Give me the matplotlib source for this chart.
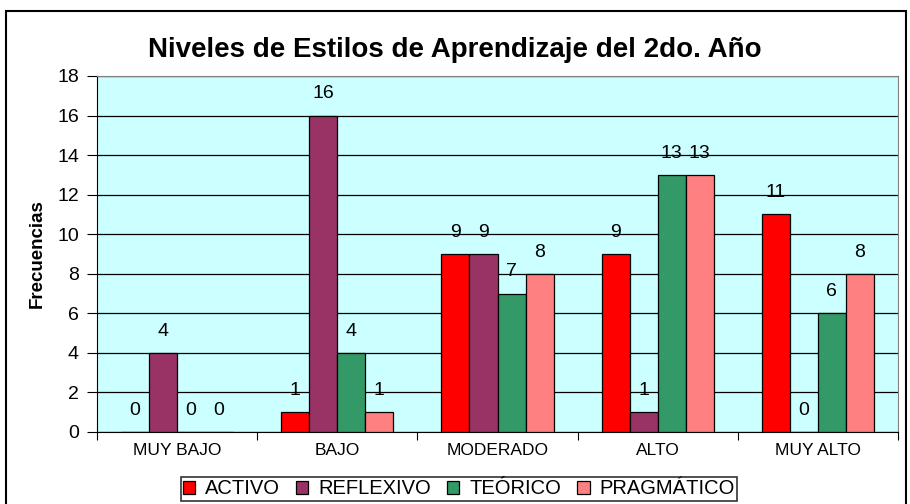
import matplotlib.pyplot as plt
import numpy as np
from matplotlib.patches import Rectangle

plt.rcParams['font.family'] = ['Liberation Sans', 'DejaVu Sans']

categorias = ['MUY BAJO', 'BAJO', 'MODERADO', 'ALTO', 'MUY ALTO']
series = ['ACTIVO', 'REFLEXIVO', 'TEÓRICO', 'PRAGMÁTICO']
activo = [0, 1, 9, 9, 11]
reflexivo = [4, 16, 9, 1, 0]
teorico = [0, 4, 7, 13, 6]
pragmatico = [0, 1, 8, 13, 8]
colors = ['#FF0000', '#993366', '#339966', '#FF8080']

fig = plt.figure(figsize=(9.1, 5.04), dpi=100)
ax = fig.add_axes([97 / 910, 1 - 432 / 504, 801 / 910, 356 / 504])
ax.set_facecolor('#CCFFFF')

x = np.arange(len(categorias))
w = 0.175
for i, (vals, name) in enumerate(zip([activo, reflexivo, teorico, pragmatico], series)):
    pos = x + (i - 1.5) * w
    ax.bar(pos, vals, w, color=colors[i], edgecolor='black', linewidth=0.9, label=name, zorder=3)
    for p, v in zip(pos, vals):
        ax.text(p, v + 1.1, str(v), ha='center', va='center', fontsize=14, zorder=4)

ax.set_xlim(-0.5, 4.5)
ax.set_ylim(0, 18)
ax.set_yticks(range(0, 19, 2))
ax.yaxis.grid(True, color='black', linewidth=0.9, zorder=0)
ax.set_xticks(np.arange(-0.5, 5, 1))
ax.set_xticklabels([])
ax.set_xticks(x, minor=True)
ax.set_xticklabels(categorias, minor=True, fontsize=12.5)
ax.tick_params(axis='x', which='minor', length=0, pad=8)
ax.tick_params(axis='x', which='major', length=6, direction='out')
ax.tick_params(axis='y', length=7, labelsize=14, pad=6)
for s in ['top', 'right']:
    ax.spines[s].set_color('#808080')
ax.set_ylabel('Frecuencias', fontsize=13.5, fontweight='bold', labelpad=8)

fig.text(0.5, 1 - 50 / 504, 'Niveles de Estilos de Aprendizaje del 2do. Año',
         ha='center', va='center', fontsize=20, fontweight='bold')

leg = fig.legend(loc='center', bbox_to_anchor=(459 / 910, 1 - 489 / 504), ncol=4,
                 frameon=True, fancybox=False, edgecolor='black', fontsize=14.5,
                 handlelength=0.6, handleheight=0.6, handletextpad=0.5, columnspacing=0.8,
                 borderpad=0.1, borderaxespad=0)
leg.get_frame().set_linewidth(1.2)

fig.patches.append(Rectangle((6 / 910, -0.05), 900 / 910, 1.05 - 11 / 504,
                             transform=fig.transFigure, fill=False, edgecolor='black',
                             linewidth=1.5))

fig.savefig('out.png', dpi=100)
